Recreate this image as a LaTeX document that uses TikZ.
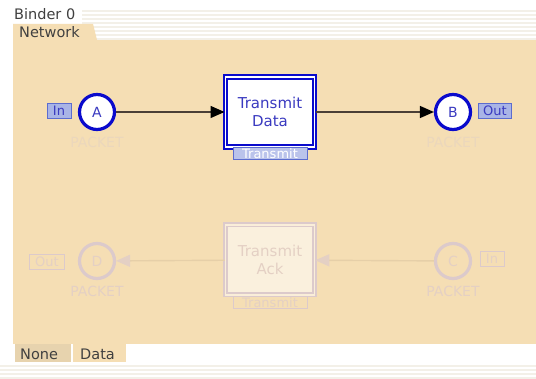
\documentclass[tikz,border=0pt]{standalone}
\usepackage{fontspec}
\setmainfont{DejaVu Sans}
\usepackage{tikz}
\usetikzlibrary{arrows.meta}

\definecolor{sheet}{HTML}{F5DEB4}
\definecolor{tabdark}{HTML}{E7D3AE}
\definecolor{stripe}{HTML}{F3F0E8}
\definecolor{netblue}{HTML}{0A0ACC}
\definecolor{txtblue}{HTML}{3A3AC0}
\definecolor{portfill}{HTML}{A9B4E6}
\definecolor{portline}{HTML}{5C6CCF}
\definecolor{ghost}{HTML}{DCCACB}
\definecolor{ghosttxt}{HTML}{E4D0C4}
\definecolor{ghostarc}{HTML}{E6CFA8}
\definecolor{typetxt}{HTML}{EBD7BC}
\definecolor{arcline}{HTML}{4A3F36}

\tikzset{
  place/.style={circle,draw=netblue,line width=3.2pt,fill=white,minimum size=35pt,
    inner sep=0pt,text=txtblue,font=\fontsize{14}{16}\selectfont},
  ghostplace/.style={place,draw=ghost,fill=sheet,text=ghosttxt},
  trans/.style={rectangle,draw=netblue,line width=2pt,double=white,double distance=1.8pt,
    fill=white,minimum width=89pt,minimum height=70pt,align=center,text=txtblue,
    font=\fontsize{15}{18}\selectfont},
  ghosttrans/.style={trans,draw=ghost,line width=1.6pt,double=sheet!50!white,fill=sheet!45!white,text=ghosttxt},
  port/.style={rectangle,draw=portline,fill=portfill,line width=1pt,inner ysep=1pt,inner xsep=3.5pt,
    minimum height=15pt,text=txtblue,font=\fontsize{13}{14}\selectfont},
  ghostport/.style={port,draw=ghost,fill=sheet,text=ghosttxt},
  typelbl/.style={text=typetxt,font=\fontsize{14}{16}\selectfont},
  arc/.style={draw=arcline,line width=1.4pt,-{Triangle[length=14pt,width=12pt,color=black]}},
  ghostarc/.style={draw=ghostarc,line width=1.4pt,-{Triangle[length=14pt,width=12pt,color=ghost!70!sheet]}},
  tabtxt/.style={text=black!75,font=\fontsize{14.5}{16}\selectfont,inner sep=0pt}
}

\begin{document}
\begin{tikzpicture}[x=1pt,y=-1pt]

\useasboundingbox (0,0) rectangle (536,379);
\fill[white] (0,0) rectangle (536,379);

% header stripes
\foreach \y in {11,15,...,39}
  \draw[stripe,line width=2pt] (82,\y) -- (536,\y);

\foreach \y in {366,370,...,378}
  \draw[stripe,line width=2pt] (0,\y) -- (536,\y);

\node[tabtxt,anchor=west] (binder) at (14,14) {Binder 0};

% sheet and tabs
\fill[sheet] (13,40) rectangle (536,344);

\fill[sheet] (13,24) -- (93,24) -- (97,40) -- (13,40) -- cycle;

\node[tabtxt,anchor=west] (network) at (19,32) {Network};

\fill[tabdark] (15,344) rectangle (71,362);

\fill[sheet] (73,344) rectangle (126,362);

\node[tabtxt,anchor=west] (none) at (20,354) {None};

\node[tabtxt,anchor=west] (data) at (80,354) {Data};

% upper row
\node[place] (A) at (97,112) {A};

\node[port,minimum width=24pt] (inA) at (59,111) {In};

\node[typelbl] (pA) at (97,142) {PACKET};

\node[trans] (td) at (270,112) {Transmit\\Data};

\node[port,fill=portfill!80!white,text=white,minimum width=74pt,minimum height=12pt,inner sep=0pt] (tdl) at (270,154) {Transmit};

\node[place] (B) at (453,112) {B};

\node[port,minimum width=33pt] (outB) at (495,111) {Out};

\node[typelbl] (pB) at (453,142) {PACKET};

\draw[arc] (A) -- (td);

\draw[arc] (td) -- (B);

% lower row
\node[ghostplace] (D) at (97,261) {D};

\node[ghostport,minimum width=35pt] (outD) at (47,262) {Out};

\node[typelbl,text=ghosttxt] (pD) at (97,291) {PACKET};

\node[ghosttrans] (ta) at (270,260) {Transmit\\Ack};

\node[ghostport,minimum width=74pt,minimum height=12pt,inner sep=0pt] (tal) at (270,303) {Transmit};

\node[ghostplace] (C) at (453,261) {C};

\node[ghostport,minimum width=24pt] (inC) at (492,259) {In};

\node[typelbl,text=ghosttxt] (pC) at (453,291) {PACKET};

\draw[ghostarc] (C) -- (ta);

\draw[ghostarc] (ta) -- (D);

\end{tikzpicture}
\end{document}
